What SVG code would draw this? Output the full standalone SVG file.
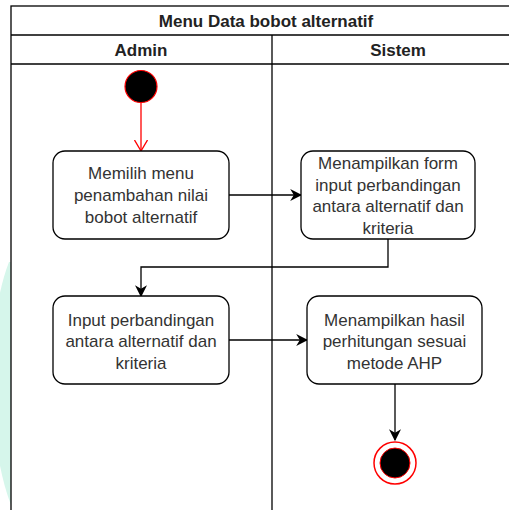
<svg xmlns="http://www.w3.org/2000/svg" width="509" height="510" viewBox="0 0 509 510">
<style>
.lane{fill:none;stroke:#000;stroke-width:1.3}
.box{fill:#fff;stroke:#000;stroke-width:1.3}
.t{font-family:"Liberation Sans",Arial,sans-serif;font-size:17px;fill:#333;text-anchor:middle}
.h{font-family:"Liberation Sans",Arial,sans-serif;font-size:17px;font-weight:bold;fill:#222;text-anchor:middle}
.c{fill:none;stroke:#000;stroke-width:1.3}
</style>
<defs>
<marker id="ah" viewBox="0 0 10 10" refX="9" refY="5" markerWidth="12" markerHeight="12" markerUnits="userSpaceOnUse" orient="auto">
<path d="M0,0 L10,5 L0,10 L3,5 Z" fill="#000"/>
</marker>
<marker id="ahr" viewBox="0 0 12 14" refX="11" refY="7" markerWidth="12" markerHeight="14" markerUnits="userSpaceOnUse" orient="auto">
<path d="M0,0.5 L11,7 L0,13.5" fill="none" stroke="#ff0000" stroke-width="1.3"/>
</marker>
</defs>
<rect width="509" height="510" fill="#fff"/>
<path d="M9,262 C-14,320 -14,440 11,505 L11,262 Z" fill="#d6f6eb"/>
<g id="pool">
<rect class="lane" x="11" y="6" width="512" height="520"/>
<line class="lane" x1="11" y1="35" x2="523" y2="35"/>
<line class="lane" x1="11" y1="64" x2="523" y2="64"/>
<line class="lane" x1="272" y1="35" x2="272" y2="526"/>
<text class="h" x="266" y="26.5">Menu Data bobot alternatif</text>
<text class="h" x="141" y="55.5">Admin</text>
<text class="h" x="398" y="55.5">Sistem</text>
</g>
<g id="connectors">
<line x1="141" y1="103" x2="141" y2="151" stroke="#ff0000" stroke-width="1.3" marker-end="url(#ahr)"/>
<line class="c" x1="229" y1="195" x2="301" y2="195" marker-end="url(#ah)"/>
<polyline class="c" points="388,239 388,267 141,267 141,296" marker-end="url(#ah)"/>
<line class="c" x1="229" y1="340" x2="307" y2="340" marker-end="url(#ah)"/>
<line class="c" x1="395" y1="384" x2="395" y2="440" marker-end="url(#ah)"/>
</g>
<g id="start">
<circle cx="141" cy="86.5" r="16" fill="#000" stroke="#ff0000" stroke-width="1.2"/>
</g>
<g id="node1">
<rect class="box" x="53" y="151" width="176" height="88" rx="12"/>
<text class="t" x="141" y="179">Memilih menu</text>
<text class="t" x="141" y="201">penambahan nilai</text>
<text class="t" x="141" y="223">bobot alternatif</text>
</g>
<g id="node2">
<rect class="box" x="301" y="151" width="174" height="88" rx="12"/>
<text class="t" x="388" y="169">Menampilkan form</text>
<text class="t" x="388" y="190.5">input perbandingan</text>
<text class="t" x="388" y="212">antara alternatif dan</text>
<text class="t" x="388" y="233.5">kriteria</text>
</g>
<g id="node3">
<rect class="box" x="53" y="296" width="176" height="88" rx="12"/>
<text class="t" x="141" y="325.5">Input perbandingan</text>
<text class="t" x="141" y="347">antara alternatif dan</text>
<text class="t" x="141" y="368.5">kriteria</text>
</g>
<g id="node4">
<rect class="box" x="307" y="296" width="175" height="88" rx="12"/>
<text class="t" x="394.5" y="325.5">Menampilkan hasil</text>
<text class="t" x="394.5" y="347">perhitungan sesuai</text>
<text class="t" x="394.5" y="368.5">metode AHP</text>
</g>
<g id="end">
<circle cx="395" cy="463" r="21" fill="#fff" stroke="#ff0000" stroke-width="1.5"/>
<circle cx="395" cy="463" r="15" fill="#000" stroke="#ff0000" stroke-width="1"/>
</g>
</svg>
